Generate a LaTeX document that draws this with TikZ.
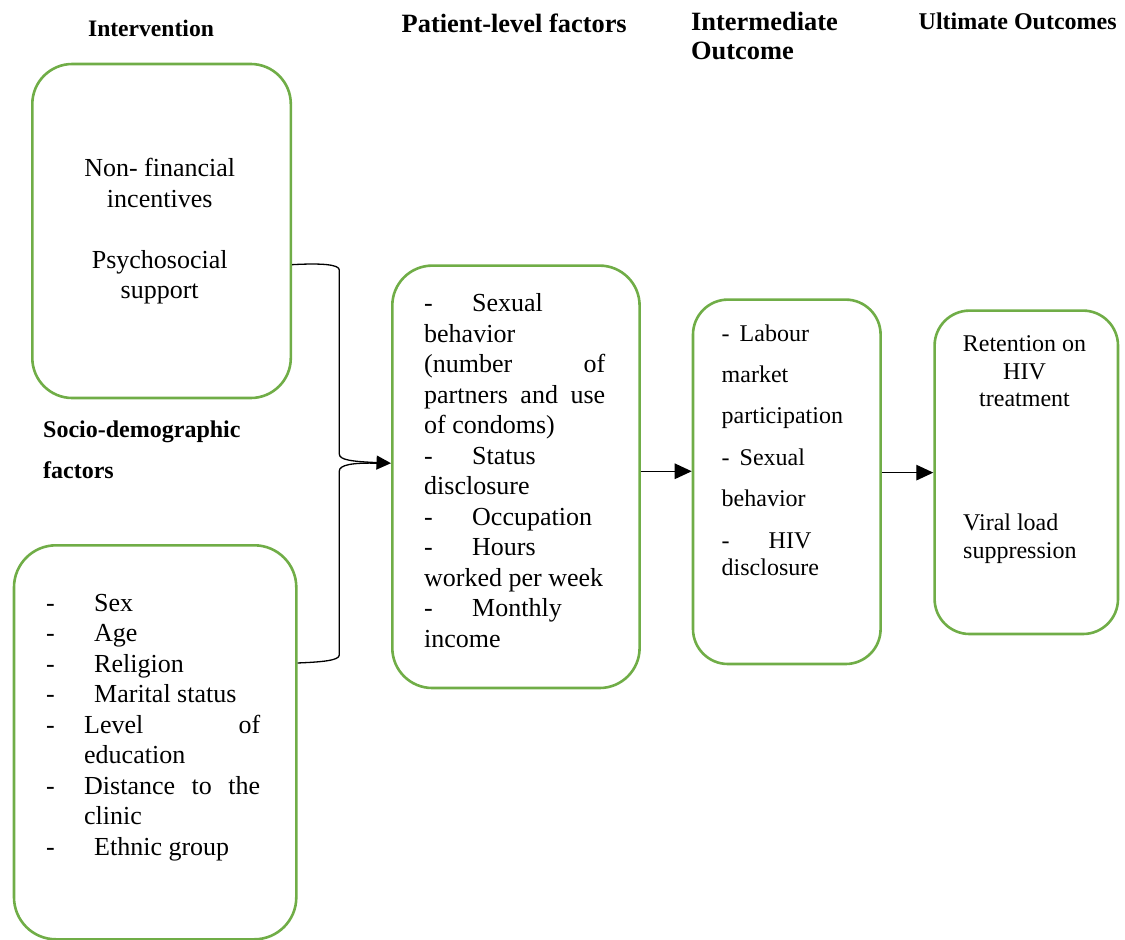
\documentclass[tikz,border=0pt]{standalone}
\usepackage{fontspec}
\setmainfont{Liberation Serif}
\usetikzlibrary{arrows.meta,calc}
\definecolor{boxgreen}{HTML}{70AD47}
\tikzset{
  box/.style={draw=boxgreen, line width=2.6pt, rounded corners=#1, inner sep=0pt, anchor=north west},
  txt/.style={inner sep=0pt, anchor=base west, font=\fontsize{26}{30}\selectfont},
  txts/.style={inner sep=0pt, anchor=base west, font=\fontsize{24}{28}\selectfont},
  head/.style={inner sep=0pt, anchor=base west, font=\bfseries\fontsize{24}{28}\selectfont},
  headl/.style={inner sep=0pt, anchor=base west, font=\bfseries\fontsize{26.4}{30}\selectfont},
  link/.style={draw=black, line width=1.3pt},
  tip/.style={-{Triangle[length=14.5pt,width=14pt]}},
  bigtip/.style={-{Triangle[length=17pt,width=15.5pt]}}
}
\newcommand\dashto[2]{\makebox[#1][l]{-}#2}
\begin{document}
\begin{tikzpicture}[x=1pt,y=-1pt]
\useasboundingbox (0,0) rectangle (1125,940);

% column headings
\node[head, anchor=base, font=\bfseries\fontsize{23.6}{28}\selectfont] (hInt) at (151,36) {Intervention};
\node[headl] (hPat) at (401.5,32) {Patient-level factors};
\node[headl] (hMid1) at (691,30) {Intermediate};
\node[headl] (hMid2) at (691,59) {Outcome};
\node[head] (hUlt) at (918.5,29.5) {Ultimate Outcomes};
\node[head] (hSoc1) at (43,437.3) {Socio-demographic};
\node[head] (hSoc2) at (43,478.3) {factors};

% boxes
\node[box=40pt, minimum width=258.5pt, minimum height=334pt] (int) at (31,62.7) {};
\node[box=42pt, minimum width=282.3pt, minimum height=394pt] (soc) at (12.7,544) {};
\node[box=40pt, minimum width=247.3pt, minimum height=422.4pt] (pat) at (391,264.3) {};
\node[box=35pt, minimum width=187.6pt, minimum height=364.4pt] (mid) at (691.7,298.3) {};
\node[box=35pt, minimum width=183.4pt, minimum height=323.4pt] (ult) at (933.3,309.3) {};

% intervention contents
\node[txt, anchor=base] (i1) at (159.7,176.7) {Non- financial};
\node[txt, anchor=base] (i2) at (159.7,207) {incentives};
\node[txt, anchor=base] (i3) at (159.7,268) {Psychosocial};
\node[txt, anchor=base] (i4) at (159.7,298.5) {support};

% socio-demographic contents
\node[txt] (s1) at (46,611) {\dashto{48pt}{Sex}};
\node[txt] (s2) at (46,641.5) {\dashto{48pt}{Age}};
\node[txt] (s3) at (46,672) {\dashto{48pt}{Religion}};
\node[txt] (s4) at (46,702.5) {\dashto{48pt}{Marital status}};
\node[txt] (s5) at (46,733) {\dashto{38pt}{\makebox[176pt][s]{Level of}}};
\node[txt] (s6) at (84,763.5) {education};
\node[txt] (s7) at (46,794) {\dashto{38pt}{\makebox[176pt][s]{Distance to the}}};
\node[txt] (s8) at (84,824.5) {clinic};
\node[txt] (s9) at (46,855) {\dashto{48pt}{Ethnic group}};

% patient-level contents
\node[txt] (p1) at (424,311.7) {\dashto{48pt}{Sexual}};
\node[txt] (p2) at (424,342.2) {behavior};
\node[txt] (p3) at (424,372.7) {\makebox[181pt][s]{(number of}};
\node[txt] (p4) at (424,403.2) {\makebox[181pt][s]{partners and use}};
\node[txt] (p5) at (424,433.7) {of condoms)};
\node[txt] (p6) at (424,464.2) {\dashto{48pt}{Status}};
\node[txt] (p7) at (424,494.7) {disclosure};
\node[txt] (p8) at (424,525.2) {\dashto{48pt}{Occupation}};
\node[txt] (p9) at (424,555.7) {\dashto{48pt}{Hours}};
\node[txt] (p10) at (424,586.2) {worked per week};
\node[txt] (p11) at (424,616.7) {\dashto{48pt}{Monthly}};
\node[txt] (p12) at (424,647.2) {income};

% intermediate outcome contents
\node[txts] (m1) at (721.5,341.7) {\dashto{18pt}{Labour}};
\node[txts] (m2) at (721.5,382) {market};
\node[txts] (m3) at (721.5,423.3) {participation};
\node[txts] (m4) at (721.5,465) {\dashto{18pt}{Sexual}};
\node[txts] (m5) at (721.5,506.7) {behavior};
\node[txts] (m6) at (721.5,548.3) {\dashto{47pt}{HIV}};
\node[txts] (m7) at (721.5,575) {disclosure};

% ultimate outcome contents
\node[txts, anchor=base] (u1) at (1024.5,351.7) {Retention on};
\node[txts, anchor=base] (u2) at (1024.5,379) {HIV};
\node[txts, anchor=base] (u3) at (1024.5,406) {treatment};
\node[txts] (u4) at (963,530.7) {Viral load};
\node[txts] (u5) at (963,558) {suppression};

% connector end points on the box borders
\coordinate (bT) at ($(int.north east)!0.6!(int.south east)$);
\coordinate (bB) at ($(soc.north east)!0.3!(soc.south east)$);
\coordinate (bIn) at ($(pat.north west)!0.468!(pat.south west)$);
\coordinate (a2) at ($(pat.north east)!0.487!(pat.south east)$);
\coordinate (a3) at ($(mid.north east)!0.475!(mid.south east)$);

% brace joining the two left boxes into the patient-level box
\draw[link, tip] (bT) .. controls (322,263) and (339.3,264.5) .. (339.3,270)
  -- (339.3,454) .. controls (339.3,460) and (352,461.5) .. (bIn);
\draw[link] (bB) .. controls (322,662) and (339.3,660.5) .. (339.3,655)
  -- (339.3,471) .. controls (339.3,465) and (352,462.5) .. ($(bIn)+(-13,0)$);

% forward arrows
\draw[link, bigtip] (a2) -- (a2 -| mid.west);
\draw[link, bigtip] (a3) -- (a3 -| ult.west);
\end{tikzpicture}
\end{document}
